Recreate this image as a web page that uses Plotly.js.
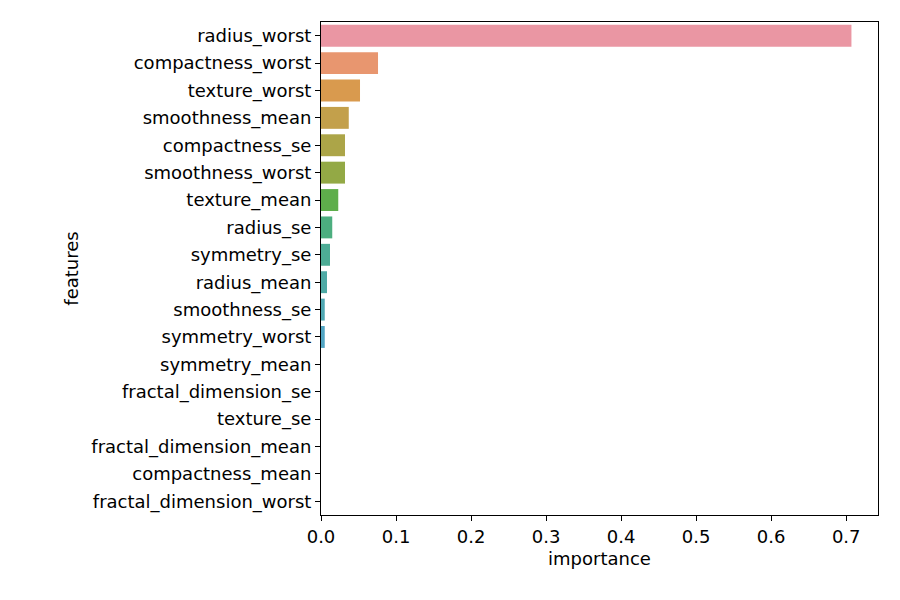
<!DOCTYPE html>
<html>
<head>
<script src="https://cdn.plot.ly/plotly-3.0.1.min.js"></script>
<style>body{margin:0}</style>
</head>
<body>
<div id="graph" style="width:900px;height:600px"></div>
<script>
const features = ['radius_worst', 'compactness_worst', 'texture_worst', 'smoothness_mean',
  'compactness_se', 'smoothness_worst', 'texture_mean', 'radius_se', 'symmetry_se',
  'radius_mean', 'smoothness_se', 'symmetry_worst', 'symmetry_mean', 'fractal_dimension_se',
  'texture_se', 'fractal_dimension_mean', 'compactness_mean', 'fractal_dimension_worst'];
const importance = [0.707, 0.076, 0.052, 0.037, 0.032, 0.032, 0.023, 0.015, 0.012,
  0.008, 0.005, 0.005, 0, 0, 0, 0, 0, 0];
const colors = ['#ea96a3', '#e8966f', '#d99a4e', '#c3a04b', '#aca548', '#93a945', '#5eae4b',
  '#4cae7f', '#4dac95', '#4eaaa5', '#50a8b3', '#52a5c3', '#5aa0d6', '#8b99e4',
  '#ad8fe5', '#cf86e3', '#e289cf', '#e88fbc'];

Plotly.newPlot('graph', [{
  type: 'bar', orientation: 'h',
  x: importance, y: features,
  marker: { color: colors },
  width: 0.8
}], {
  width: 900, height: 600,
  margin: { l: 321, r: 22, t: 22, b: 85 },
  paper_bgcolor: 'white', plot_bgcolor: 'white',
  font: { family: 'DejaVu Sans', size: 18, color: 'black' },
  showlegend: false,
  xaxis: {
    range: [0, 0.7424], dtick: 0.1, tickformat: '.1f',
    showgrid: false, zeroline: false,
    showline: true, mirror: true, linecolor: 'black', linewidth: 1,
    ticks: 'outside', ticklen: 5, tickcolor: 'black',
    title: { text: 'importance', font: { size: 18 }, standoff: 6 }
  },
  yaxis: {
    autorange: 'reversed',
    showgrid: false, zeroline: false,
    showline: true, mirror: true, linecolor: 'black', linewidth: 1,
    ticks: 'outside', ticklen: 5, tickcolor: 'black',
    title: { text: 'features', font: { size: 18 }, standoff: 8 }
  }
}, { displayModeBar: false });
</script>
</body>
</html>
